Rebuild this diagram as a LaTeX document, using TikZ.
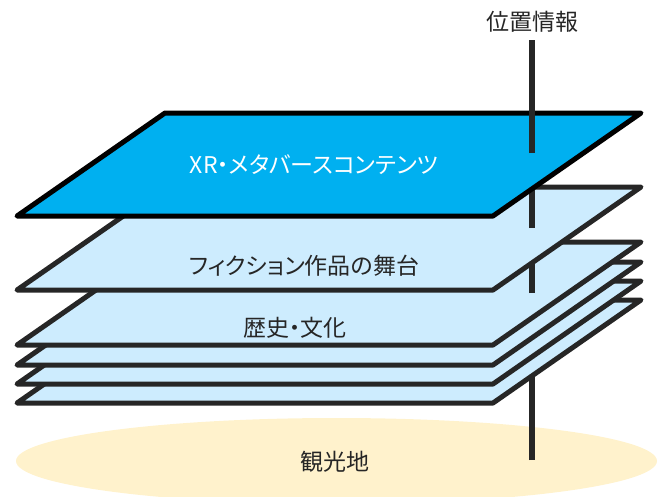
\documentclass[tikz,border=0pt]{standalone}
\usepackage{fontspec}
\setmainfont{Noto Sans CJK JP}[RawFeature=+palt]
\begin{document}
\begin{tikzpicture}[x=1pt,y=-1pt,
  layer/.style={draw=linegray,fill=lightblue,line width=5pt,line join=round},
  toplayer/.style={draw=black,fill=xrblue,line width=5pt,line join=round},
  pole/.style={draw=linegray,line width=5.5pt},
  lbl/.style={text=linegray,font=\fontsize{23}{25}\selectfont,inner sep=0pt},
  ]
\definecolor{linegray}{HTML}{262626}
\definecolor{lightblue}{HTML}{CDECFE}
\definecolor{xrblue}{HTML}{00B0F0}
\definecolor{sand}{HTML}{FFF2CC}
\useasboundingbox (0,0) rectangle (664,496);
% ground
\fill[sand] (336.5,461) ellipse [x radius=320.5, y radius=43];
\node[lbl] (ground) at (335,462) {観光地};
% lower pole segment
\coordinate (p0) at (532,460);
\coordinate (p1) at (532,300);
\draw[pole] (p0) -- (p1);
% stacked layers (bottom first)
\foreach \b in {403,384,365}{
  \draw[layer] (17,\b) -- (493,\b) -- (641,\b-103) -- (165,\b-103) -- cycle;
}
\draw[layer] (17,345) -- (493,345) -- (641,242) -- (165,242) -- cycle;
\node[lbl] (hist) at (295,328) {歴史・文化};
\coordinate (p2) at (532,293);
\coordinate (p3) at (532,220);
\draw[pole] (p2) -- (p3);
\draw[layer] (17,290) -- (493,290) -- (641,187) -- (165,187) -- cycle;
\node[lbl] (fict) at (304,266) {フィクション作品の舞台};
\coordinate (p4) at (532,228);
\coordinate (p5) at (532,150);
\draw[pole] (p4) -- (p5);
\draw[toplayer] (17,216) -- (493,216) -- (641,113) -- (165,113) -- cycle;
\node[lbl,text=white] (xr) at (314,165) {XR・メタバースコンテンツ};
\coordinate (p6) at (532,153);
\coordinate (p7) at (532,40);
\draw[pole] (p6) -- (p7);
\node[lbl] (pos) at (532,22) {位置情報};
\end{tikzpicture}
\end{document}
